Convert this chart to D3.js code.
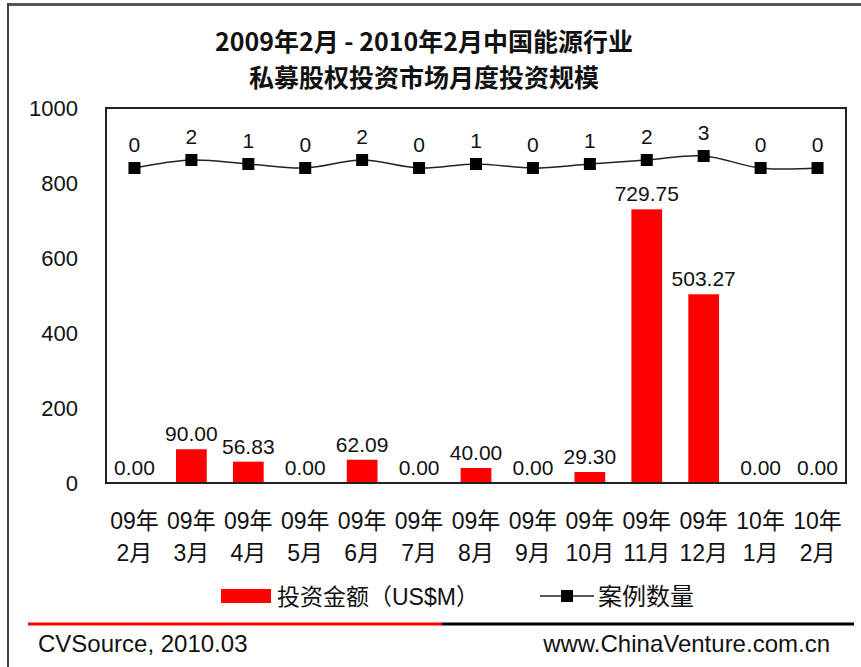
<!DOCTYPE html>
<html>
<head>
<meta charset="utf-8">
<script src="https://cdn.jsdelivr.net/npm/d3@7"></script>
<style>
	body { margin: 0; background: #fff; }
	text { font-family: "Liberation Sans", "Noto Sans CJK SC", sans-serif; fill: #111; }
</style>
</head>
<body>
<svg id="chart" width="861" height="667"></svg>
<script>
var months = ['09年|2月', '09年|3月', '09年|4月', '09年|5月', '09年|6月', '09年|7月', '09年|8月',
	'09年|9月', '09年|10月', '09年|11月', '09年|12月', '10年|1月', '10年|2月'];
var amounts = [0, 90.00, 56.83, 0, 62.09, 0, 40.00, 0, 29.30, 729.75, 503.27, 0, 0];
var cases = [0, 2, 1, 0, 2, 0, 1, 0, 1, 2, 3, 0, 0];
var yTicks = [0, 200, 400, 600, 800, 1000];
var titleLines = ['2009年2月 - 2010年2月中国能源行业', '私募股权投资市场月度投资规模'];
var legendNames = ['投资金额（US$M）', '案例数量'];

var plot = { left: 106, right: 846, top: 108, bottom: 483 };
var red = '#ff0000';

var svg = d3.select('#chart');

var x = d3.scaleBand()
	.domain(months)
	.range([plot.left, plot.right])
	.paddingInner(0.46)
	.paddingOuter(0.23);
var y = d3.scaleLinear().domain([0, 1000]).range([plot.bottom, plot.top]);
// the case count sits on a hidden second axis
var y2 = d3.scaleLinear().domain([0, 3]).range([168, 156]);

// outer frame
svg.append('line').attr('x1', 8).attr('x2', 861).attr('y1', 4.5).attr('y2', 4.5)
	.attr('stroke', '#555').attr('stroke-width', 3);
svg.append('line').attr('x1', 8).attr('x2', 8).attr('y1', 3).attr('y2', 667)
	.attr('stroke', '#444').attr('stroke-width', 2);

// title
svg.selectAll('.title').data(titleLines).enter().append('text')
	.attr('class', 'title')
	.attr('x', 424)
	.attr('y', function(d, i){ return 51 + i * 36; })
	.attr('text-anchor', 'middle')
	.style('font-family', '"Noto Sans CJK SC", sans-serif')
	.style('font-weight', 'bold')
	.style('font-size', '25px')
	.text(function(d){ return d; });

// y axis labels, no line
var yAxis = d3.axisLeft(y).tickValues(yTicks).tickFormat(d3.format('d')).tickSize(0).tickPadding(0);
var yg = svg.append('g').attr('transform', 'translate(78,0)').call(yAxis);
yg.select('.domain').remove();
yg.selectAll('text').style('font-size', '22px').style('font-family', '"Liberation Sans", sans-serif')
	.attr('fill', '#111');

// bars
svg.selectAll('.bar').data(amounts).enter().append('rect')
	.attr('class', 'bar')
	.attr('x', function(d, i){ return x(months[i]); })
	.attr('width', x.bandwidth())
	.attr('y', function(d){ return y(d); })
	.attr('height', function(d){ return y(0) - y(d); })
	.attr('fill', red);

svg.selectAll('.barlabel').data(amounts).enter().append('text')
	.attr('class', 'barlabel')
	.attr('x', function(d, i){ return x(months[i]) + x.bandwidth() / 2; })
	.attr('y', function(d){ return y(d) - 8; })
	.attr('text-anchor', 'middle')
	.style('font-size', '21px')
	.text(function(d){ return d.toFixed(2); });

// plot frame
svg.append('rect')
	.attr('x', plot.left).attr('y', plot.top)
	.attr('width', plot.right - plot.left).attr('height', plot.bottom - plot.top)
	.attr('fill', 'none').attr('stroke', '#222').attr('stroke-width', 2);

// case count line
var line = d3.line()
	.x(function(d, i){ return x(months[i]) + x.bandwidth() / 2; })
	.y(function(d){ return y2(d); })
	.curve(d3.curveCatmullRom.alpha(0.5));
svg.append('path').datum(cases)
	.attr('d', line)
	.attr('fill', 'none')
	.attr('stroke', '#222')
	.attr('stroke-width', 1.5);

svg.selectAll('.marker').data(cases).enter().append('rect')
	.attr('class', 'marker')
	.attr('x', function(d, i){ return x(months[i]) + x.bandwidth() / 2 - 6; })
	.attr('y', function(d){ return y2(d) - 6; })
	.attr('width', 12).attr('height', 12)
	.attr('fill', '#000');

svg.selectAll('.caselabel').data(cases).enter().append('text')
	.attr('class', 'caselabel')
	.attr('x', function(d, i){ return x(months[i]) + x.bandwidth() / 2; })
	.attr('y', function(d){ return y2(d) - 16; })
	.attr('text-anchor', 'middle')
	.style('font-size', '21px')
	.text(function(d){ return d; });

// month labels, two rows
var xl = svg.selectAll('.xlabel').data(months).enter().append('text')
	.attr('class', 'xlabel')
	.attr('text-anchor', 'middle')
	.style('font-size', '23px');
xl.selectAll('tspan').data(function(d){ return d.split('|'); }).enter().append('tspan')
	.attr('x', function(){ var m = d3.select(this.parentNode).datum(); return x(m) + x.bandwidth() / 2; })
	.attr('y', function(d, i){ return 529 + i * 32; })
	.text(function(d){ return d; });

// legend
svg.append('rect').attr('x', 221).attr('y', 589).attr('width', 50).attr('height', 14).attr('fill', red);
svg.append('text').attr('x', 277).attr('y', 605).style('font-size', '23px').text(legendNames[0]);
svg.append('line').attr('x1', 540).attr('x2', 594).attr('y1', 596).attr('y2', 596)
	.attr('stroke', '#222').attr('stroke-width', 1.5);
svg.append('rect').attr('x', 561).attr('y', 590).attr('width', 12).attr('height', 12).attr('fill', '#000');
svg.append('text').attr('x', 598).attr('y', 605).style('font-size', '24px').text(legendNames[1]);

// footer
svg.append('line').attr('x1', 28).attr('x2', 442).attr('y1', 624).attr('y2', 624)
	.attr('stroke', red).attr('stroke-width', 3);
svg.append('line').attr('x1', 442).attr('x2', 854).attr('y1', 624).attr('y2', 624)
	.attr('stroke', '#000').attr('stroke-width', 3);
svg.append('text').attr('x', 38).attr('y', 652).style('font-size', '24px').text('CVSource, 2010.03');
svg.append('text').attr('x', 830).attr('y', 652).attr('text-anchor', 'end')
	.style('font-size', '24px').text('www.ChinaVenture.com.cn');
</script>
</body>
</html>
